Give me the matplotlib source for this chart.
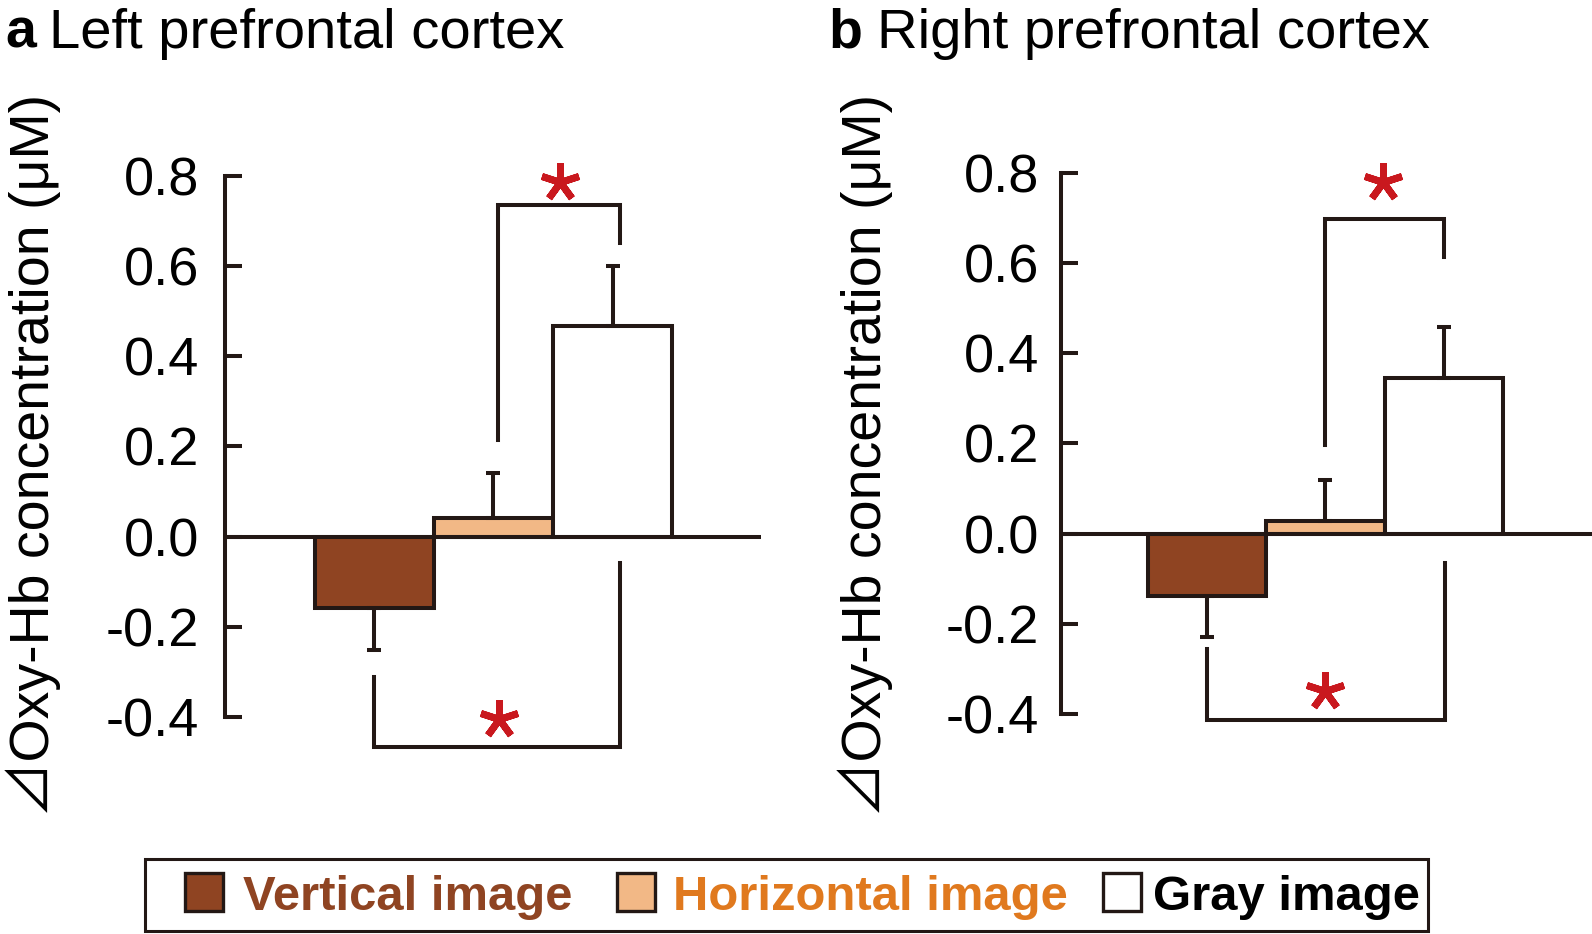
import matplotlib
matplotlib.use("Agg")
import matplotlib.pyplot as plt
from matplotlib.patches import Rectangle

# ---------------- data ----------------
categories = ["Vertical image", "Horizontal image", "Gray image"]
left_means = [-0.159, 0.042, 0.467]
left_sem = [0.093, 0.098, 0.133]
right_means = [-0.137, 0.029, 0.345]
right_sem = [0.091, 0.090, 0.113]
ytick_values = [-0.4, -0.2, 0.0, 0.2, 0.4, 0.6, 0.8]
ytick_labels = ["-0.4", "-0.2", "0.0", "0.2", "0.4", "0.6", "0.8"]
panel_titles = [("a", "Left prefrontal cortex"), ("b", "Right prefrontal cortex")]
ylabel_text = "\u22bfOxy-Hb concentration (\u03bcM)"

# significance brackets: (x_left, x_right, y_left_end, y_bar, y_right_end), star (x, y)
left_top_bracket = (1.04, 2.06, 0.215, 0.736, 0.651)
left_top_star = (1.555, 0.785)
left_bottom_bracket = (0.0, 2.06, -0.312, -0.467, -0.058)
left_bottom_star = (1.05, -0.405)
right_top_bracket = (1.0, 2.0, 0.196, 0.697, 0.614)
right_top_star = (1.49, 0.78)
right_bottom_bracket = (0.0, 2.01, -0.256, -0.413, -0.064)
right_bottom_star = (1.0, -0.349)

# ---------------- style ----------------
W, H = 1592, 934
LINE = "#231815"
BAR_COLORS = ["#8F4422", "#F2B886", "#FFFFFF"]
TEXT_COLORS = ["#8F4422", "#E0791E", "#000000"]
STAR = "#C9181E"
LW = 2.9
FONT = ["Liberation Sans", "DejaVu Sans"]
LABEL_FONT = ["Liberation Sans", "Noto Sans CJK JP", "DejaVu Sans"]
plt.rcParams["font.family"] = FONT

fig = plt.figure(figsize=(W / 100, H / 100), dpi=100)


def px_axes(left, top, width, height):
    return fig.add_axes([left / W, 1 - (top + height) / H, width / W, height / H])


def draw_panel(ax, means, sem, xlim, pad, top_b, top_s, bot_b, bot_s):
    x = list(range(len(means)))
    ax.set_xlim(*xlim)
    ax.set_ylim(-0.5, 0.85)
    ax.bar(x, means, width=1.0, color=BAR_COLORS, edgecolor=LINE,
           linewidth=LW, zorder=2)
    lower = [s if m < 0 else 0 for m, s in zip(means, sem)]
    upper = [s if m >= 0 else 0 for m, s in zip(means, sem)]
    ax.errorbar(x, means, yerr=[lower, upper], fmt="none", ecolor=LINE,
                elinewidth=LW, capsize=5, capthick=LW, zorder=3)
    ax.axhline(0, color=LINE, lw=LW, zorder=4)
    for spine in ["top", "right", "bottom"]:
        ax.spines[spine].set_visible(False)
    ax.spines["left"].set_bounds(-0.4, 0.8)
    ax.spines["left"].set_linewidth(LW)
    ax.spines["left"].set_color(LINE)
    ax.set_xticks([])
    ax.set_yticks(ytick_values)
    ax.set_yticklabels(ytick_labels)
    ax.tick_params(axis="y", direction="in", length=12.2, width=LW,
                   color=LINE, labelsize=39, pad=pad, labelcolor="black")
    ax.patch.set_alpha(0)
    for (xl, xr, yl, yb, yr), (sx, sy) in [(top_b, top_s), (bot_b, bot_s)]:
        ax.plot([xl, xl, xr, xr], [yl, yb, yb, yr], color=LINE, lw=LW,
                clip_on=False, solid_joinstyle="miter", zorder=3)
        ax.plot([sx], [sy], marker=(5, 2, 0), markersize=28, color=STAR,
                markeredgewidth=5.0, clip_on=False, zorder=5)


axL = px_axes(225.4, 153.15, 536.0, 608.85)
draw_panel(axL, left_means, left_sem, (-1.25, 3.25), 19,
           left_top_bracket, left_top_star, left_bottom_bracket, left_bottom_star)

axR = px_axes(1061.0, 150.0, 531.0, 609.5)
draw_panel(axR, right_means, right_sem, (-1.24, 3.257), 15.5,
           right_top_bracket, right_top_star, right_bottom_bracket, right_bottom_star)

# ---------------- overlay: titles, y labels, legend ----------------
ov = fig.add_axes([0, 0, 1, 1], zorder=10)
ov.set_xlim(0, W)
ov.set_ylim(H, 0)
ov.axis("off")
ov.patch.set_alpha(0)

title_pos = [(5, 49, 48), (828, 877, 48)]
for (letter, txt), (xl, xt, yb) in zip(panel_titles, title_pos):
    ov.text(xl, yb, letter, fontsize=40, fontweight="bold", va="baseline", ha="left")
    ov.text(xt, yb, txt, fontsize=40.5, va="baseline", ha="left")

for xc in [33, 865]:
    ov.text(xc, 455, ylabel_text, fontsize=40, rotation=90, ha="center",
            va="center", family=LABEL_FONT)

# legend
ov.add_patch(Rectangle((145, 859), 1283, 72, fill=False, edgecolor=LINE, lw=2.2))
sw_x = [185, 617, 1103]
tx_x = [243, 673, 1153]
for c, tc, name, sx, tx in zip(BAR_COLORS, TEXT_COLORS, categories, sw_x, tx_x):
    ov.add_patch(Rectangle((sx, 873), 38, 38, facecolor=c, edgecolor=LINE, lw=2.4))
    ov.text(tx, 910, name, fontsize=35.3, fontweight="bold", color=tc,
            va="baseline", ha="left")

fig.savefig("out.png", dpi=100)
